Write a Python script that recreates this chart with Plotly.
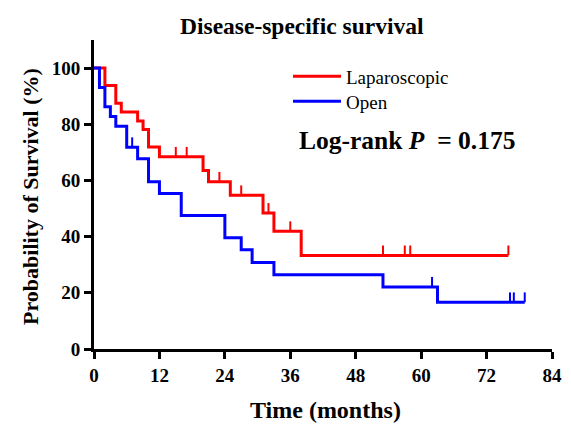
import numpy as np
import plotly.graph_objects as go

# Kaplan-Meier steps (time in months, survival %)
lap_event_t = [0, 2, 4, 5, 8, 9, 10, 12, 20, 21, 25, 31, 33, 38]
lap_surv = [100, 93.8, 87.5, 84.4, 81.2, 78.1, 71.9, 68.4, 63.5, 59.5, 54.7, 48.4, 41.9, 33.3]
lap_end = 76
lap_censor_t = [15, 17, 23, 27, 32, 36, 53, 57, 58, 76]

open_event_t = [0, 1, 2, 3, 4, 6, 8, 10, 12, 16, 24, 27, 29, 33, 53, 63]
open_surv = [100, 93.1, 86.2, 82.8, 79.3, 71.8, 67.7, 59.5, 55.4, 47.5, 39.6, 35.3, 30.8, 26.4, 22.1, 16.6]
open_end = 79
open_censor_t = [7, 62, 76.3, 77, 79]

x_ticks = [0, 12, 24, 36, 48, 60, 72, 84]
y_ticks = [0, 20, 40, 60, 80, 100]

RED = "#ff0000"
BLUE = "#0000ff"
FONT = "Liberation Serif"

# The page body has an 8px margin, so the figure is drawn 8px in from the top-left.
OFF = 8
W, H = 571 - OFF, 427 - OFF
ML, MR, MT, MB = 94 - OFF, 19, 40 - OFF, 78
PW, PH = W - ML - MR, H - MT - MB


def px2paper_x(px):
    return (px - OFF - ML) / PW


def px2paper_y(py):
    return (H - MB - (py - OFF)) / PH


def step_xy(ts, ss, end):
    return list(ts) + [end], list(ss) + [ss[-1]]


def censor_levels(ts, ss, cts):
    idx = np.searchsorted(np.array(ts), np.array(cts), side="right") - 1
    return [ss[i] for i in idx]


fig = go.Figure()
for name, ts, ss, end, cts, col, lg in [
    ("Laparoscopic", lap_event_t, lap_surv, lap_end, lap_censor_t, RED, "legend"),
    ("Open", open_event_t, open_surv, open_end, open_censor_t, BLUE, "legend2"),
]:
    x, y = step_xy(ts, ss, end)
    fig.add_trace(go.Scatter(x=x, y=y, mode="lines", line=dict(color=col, width=3, shape="hv"),
                             name=name, cliponaxis=False, legend=lg))
    lv = censor_levels(ts, ss, cts)
    fig.add_trace(go.Scatter(x=cts, y=[v + 1.8 for v in lv], mode="markers", showlegend=False,
                             marker=dict(symbol="line-ns", size=7, line=dict(color=col, width=2)),
                             cliponaxis=False))

axis_common = dict(showline=True, linecolor="black", linewidth=3, ticks="outside", ticklen=7,
                   tickwidth=3, tickcolor="black", showgrid=False, zeroline=False, automargin=False,
                   tickfont=dict(family=FONT, size=19, color="black"))

legend_common = dict(xanchor="left", yanchor="middle", bgcolor="rgba(0,0,0,0)",
                     font=dict(family=FONT, size=19, color="black"), itemwidth=48)

fig.update_layout(
    width=W, height=H,
    margin=dict(l=ML, r=MR, t=MT, b=MB),
    paper_bgcolor="white", plot_bgcolor="white",
    font=dict(family=FONT, color="black"),
    xaxis=dict(range=[0, 84], tickvals=x_ticks, ticktext=[f"<b>{v}</b>" for v in x_ticks],
               **axis_common),
    yaxis=dict(range=[0, 110], tickvals=y_ticks, ticktext=[f"<b>{v}</b>" for v in y_ticks],
               **axis_common),
    legend=dict(x=px2paper_x(288), y=px2paper_y(76.5), **legend_common),
    legend2=dict(x=px2paper_x(288), y=px2paper_y(101.5), **legend_common),
    showlegend=True,
)

# Title and axis titles
fig.add_annotation(text="<b>Disease-specific survival</b>", x=px2paper_x(301.5), y=px2paper_y(26),
                   xref="paper", yref="paper", xanchor="center", yanchor="middle", showarrow=False,
                   font=dict(family=FONT, size=23.5, color="black"))
fig.add_annotation(text="<b>Time (months)</b>", x=px2paper_x(325.5), y=px2paper_y(410),
                   xref="paper", yref="paper", xanchor="center", yanchor="middle", showarrow=False,
                   font=dict(family=FONT, size=24, color="black"))
fig.add_annotation(text="<b>Probability of Survival (%)</b>", x=px2paper_x(30), y=px2paper_y(197),
                   xref="paper", yref="paper", xanchor="center", yanchor="middle", showarrow=False,
                   textangle=-90, font=dict(family=FONT, size=22, color="black"))
fig.add_annotation(text="<b>Log-rank <i>P</i>  = 0.175</b>", x=px2paper_x(297), y=px2paper_y(140),
                   xref="paper", yref="paper", xanchor="left", yanchor="middle", showarrow=False,
                   font=dict(family=FONT, size=25.5, color="black"))

fig.write_html("out.html")
